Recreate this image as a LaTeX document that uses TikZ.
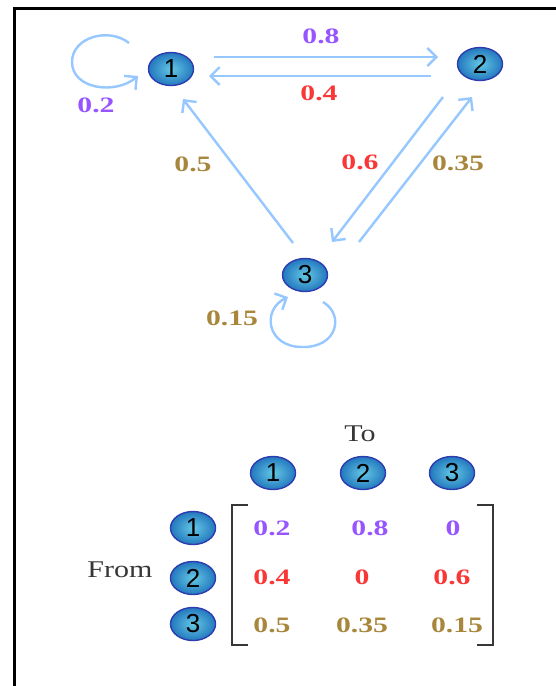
\documentclass[tikz,border=0pt]{standalone}
\usepackage{fontspec}
\usepackage{graphicx}
\setmainfont{Liberation Serif}
\newfontfamily\nodefont{Liberation Sans}
\usetikzlibrary{arrows.meta,shapes.geometric,calc}
\definecolor{arrblue}{RGB}{150,200,255}
\definecolor{nodeborder}{RGB}{45,60,175}
\definecolor{nodeinner}{RGB}{100,200,228}
\definecolor{nodeouter}{RGB}{35,120,190}
\definecolor{cpurple}{RGB}{150,85,255}
\definecolor{cred}{RGB}{250,55,55}
\definecolor{cgold}{RGB}{168,135,60}
\definecolor{cgray}{RGB}{55,55,55}
\newcommand\wideN[1]{\scalebox{1.35}[1]{#1}}
\newcommand\wideT[1]{\scalebox{1.25}[1]{#1}}
\tikzset{
  state/.style={ellipse, minimum width=45pt, minimum height=33pt, inner sep=0pt,
    draw=nodeborder, line width=1.4pt, inner color=nodeinner, outer color=nodeouter,
    font=\nodefont\fontsize{26}{26}\selectfont},
  arr/.style={draw=arrblue, line width=2.4pt, -{Straight Barb[length=9pt,width=18pt]}},
  num/.style={inner sep=0pt, font=\bfseries\fontsize{22}{22}\selectfont},
  lbl/.style={inner sep=0pt, text=cgray, font=\fontsize{24}{24}\selectfont},
  brk/.style={draw=cgray, line width=2.6pt}
}
\begin{document}
\begin{tikzpicture}[x=1pt,y=-1pt]
\useasboundingbox (0,0) rectangle (556,686);
\fill[white] (0,0) rectangle (556,686);
% frame
\draw[line width=2.6pt] (14.5,686) -- (14.5,8.5) -- (556,8.5);

% graph nodes
\node[state] (n1) at (171,69) {1};
\node[state] (n2) at (480,64) {2};
\node[state] (n3) at (305,275) {3};

% edges
\draw[arr] ($(n1)+(43,-12)$) -- ($(n2)+(-42,-7)$);
\draw[arr] ($(n2)+(-49,12)$) -- ($(n1)+(38,7)$);
\draw[arr] ($(n3)+(-12,-32)$) -- ($(n1)+(12,30)$);
\draw[arr] ($(n2)+(-37,33)$) -- ($(n3)+(27,-33)$);
\draw[arr] ($(n3)+(54,-33)$) -- ($(n2)+(-8,33)$);
% self loops
\draw[arr] ($(n1)+(-42,-26)$) .. controls ($(n1)+(-62,-42)$) and ($(n1)+(-99,-32)$) ..
  ($(n1)+(-99,-7)$) .. controls ($(n1)+(-99,20)$) and ($(n1)+(-56,26)$) .. ($(n1)+(-33,7)$);
\draw[arr] ($(n3)+(18,27)$) .. controls ($(n3)+(40,40)$) and ($(n3)+(32,73)$) ..
  ($(n3)+(-3,72)$) .. controls ($(n3)+(-38,72)$) and ($(n3)+(-44,35)$) .. ($(n3)+(-17,22)$);

% edge labels
\node[num, text=cpurple] (l12) at (321,36) {\wideN{0.8}};
\node[num, text=cred] (l21) at (319,93) {\wideN{0.4}};
\node[num, text=cpurple] (l11) at (96,105) {\wideN{0.2}};
\node[num, text=cgold] (l31) at (193,164) {\wideN{0.5}};
\node[num, text=cred] (l23) at (360,162) {\wideN{0.6}};
\node[num, text=cgold] (l32) at (458,163) {\wideN{0.35}};
\node[num, text=cgold] (l33) at (232,318) {\wideN{0.15}};

% matrix
\node[lbl] (to) at (360,434) {\wideT{To}};
\node[lbl] (from) at (120,570) {\wideT{From}};
\node[state] (c1) at (273,473) {1};
\node[state] (c2) at (363,473) {2};
\node[state] (c3) at (452,473) {3};
\node[state] (r1) at (193,528) {1};
\node[state] (r2) at (193,578) {2};
\node[state] (r3) at (193,624) {3};
\coordinate (bl) at (232,505);
\coordinate (br) at (493,505);
\draw[brk] ($(bl)+(16,0)$) -- (bl) -- ($(bl)+(0,140)$) -- ($(bl)+(16,140)$);
\draw[brk] ($(br)+(-16,0)$) -- (br) -- ($(br)+(0,140)$) -- ($(br)+(-16,140)$);

\node[num, text=cpurple] (m11) at (272,528) {\wideN{0.2}};
\node[num, text=cpurple] (m12) at (370,528) {\wideN{0.8}};
\node[num, text=cpurple] (m13) at (453,528) {\wideN{0}};
\node[num, text=cred] (m21) at (272,577) {\wideN{0.4}};
\node[num, text=cred] (m22) at (362,577) {\wideN{0}};
\node[num, text=cred] (m23) at (452,577) {\wideN{0.6}};
\node[num, text=cgold] (m31) at (272,625) {\wideN{0.5}};
\node[num, text=cgold] (m32) at (362,625) {\wideN{0.35}};
\node[num, text=cgold] (m33) at (457,625) {\wideN{0.15}};
\end{tikzpicture}
\end{document}
